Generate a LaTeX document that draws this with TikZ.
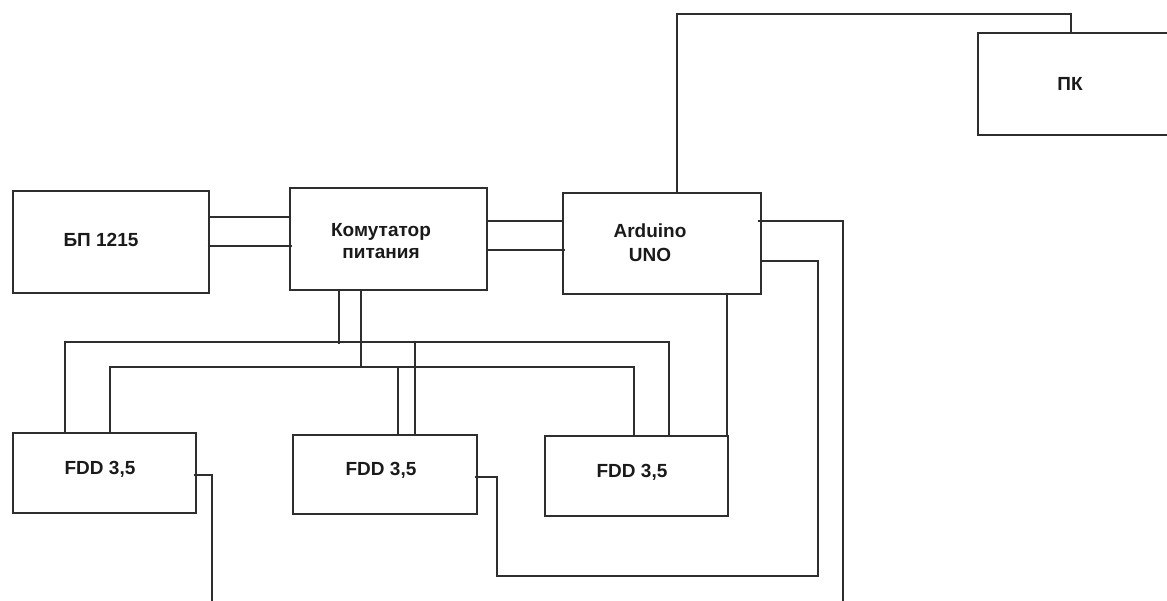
\documentclass[tikz,border=0pt]{standalone}
\usepackage{fontspec}
\setmainfont{Liberation Sans}
\begin{document}
\begin{tikzpicture}[x=1pt,y=-1pt,
  box/.style={draw=wire,line width=1.2pt,inner sep=0pt,minimum width=#1},
  lbl/.style={font=\fontsize{19}{22}\selectfont\bfseries,text=txt,align=center,inner sep=0pt},
  w/.style={draw=wire,line width=1.2pt}]
\definecolor{wire}{HTML}{2E2E2E}
\definecolor{txt}{HTML}{1A1A1A}
\useasboundingbox (0,0) rectangle (1167,601);
\clip (0,0) rectangle (1167,601);
% boxes
\node[box=196, minimum height=102] (bp)  at (111,242)   {};
\node[box=197, minimum height=102] (kom) at (388.5,239) {};
\node[box=198, minimum height=101] (ard) at (662,243.5) {};
\node[box=200, minimum height=102] (pk)  at (1078,84)   {};
\node[box=183, minimum height=80]  (f1)  at (104.5,473) {};
\node[box=184, minimum height=79]  (f2)  at (385,474.5) {};
\node[box=183, minimum height=80]  (f3)  at (636.5,476) {};
% labels
\node[lbl] (bpT)  at (101,240) {БП 1215};
\node[lbl] (komT) at (381,241) {Комутатор\\питания};
\node[lbl] (ardT) at (650,243) {Arduino\\[2pt]UNO};
\node[lbl] (pkT)  at (1070,84) {ПК};
\node[lbl] (f1T)  at (100,469) {FDD 3,5};
\node[lbl] (f2T)  at (381,470) {FDD 3,5};
\node[lbl] (f3T)  at (632,472) {FDD 3,5};
% BP - Komutator
\draw[w] (bp.east |- 0,217) -- (kom.west |- 0,217);
\draw[w] ([xshift=-2]bp.east |- 0,246) -- ([xshift=3]kom.west |- 0,246);
% Komutator - Arduino
\draw[w] (kom.east |- 0,221) -- (ard.west |- 0,221);
\draw[w] (kom.east |- 0,250) -- ([xshift=3]ard.west |- 0,250);
% Komutator down to buses
\draw[w] (kom.south -| 339,0) -- (339,344);
\draw[w] (kom.south -| 361,0) -- (361,367);
% bus 1
\draw[w] (f1.north -| 65,0) |- (669,342) -- (f3.north -| 669,0);
% bus 2
\draw[w] (f1.north -| 110,0) |- (634,367) -- (f3.north -| 634,0);
% FDD2 feeds
\draw[w] (398,367) -- (f2.north -| 398,0);
\draw[w] (415,342) -- (f2.north -| 415,0);
% Arduino bottom to FDD3
\draw[w] (ard.south -| 727,0) -- (f3.north -| 727,0);
% Arduino to PK
\draw[w] (ard.north -| 677,0) |- (1071,14) -- (pk.north -| 1071,0);
% Arduino right outputs
\draw[w] ([xshift=-4]ard.east |- 0,221) -| (843,606);
\draw[w] (ard.east |- 0,261) -| (818,576) -| (497,477) -- ([xshift=-3]f2.east |- 0,477);
% FDD1 output
\draw[w] ([xshift=-3]f1.east |- 0,475) -| (212,606);
\end{tikzpicture}
\end{document}
